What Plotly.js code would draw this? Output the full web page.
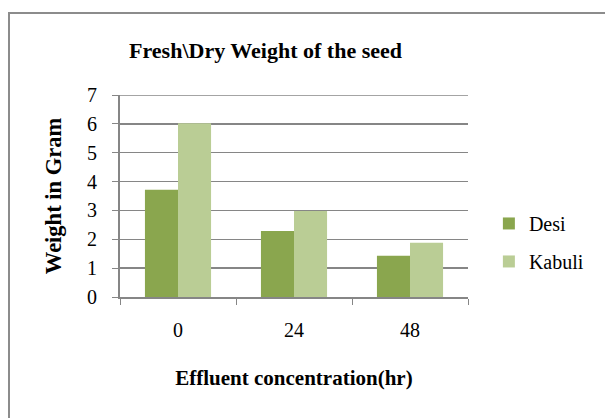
<!DOCTYPE html>
<html>
<head>
<meta charset="utf-8">
<script src="https://cdn.plot.ly/plotly-3.0.1.min.js"></script>
<style>html,body{margin:0;padding:0;background:#fff;}#chart{width:605px;height:418px;}</style>
</head>
<body>
<div id="chart"></div>
<script>
const categories = ['0', '24', '48'];
const desi = [3.72, 2.29, 1.43];
const kabuli = [6.02, 2.98, 1.88];
const yTicks = [0, 1, 2, 3, 4, 5, 6, 7];

const serif = 'Liberation Serif, Times New Roman, serif';
const traces = [
  {type: 'bar', name: 'Desi', x: categories, y: desi, marker: {color: '#8AA64E'}, legendgroup: 'a'},
  {type: 'bar', name: 'Kabuli', x: categories, y: kabuli, marker: {color: '#BACD95'}, legendgroup: 'b'}
];
const L = 120, R = 605 - 468, T = 95, B = 418 - 297;
const layout = {
  width: 605, height: 418,
  margin: {l: L, r: R, t: T, b: B, autoexpand: false},
  paper_bgcolor: '#fff', plot_bgcolor: '#fff',
  font: {family: serif, size: 20, color: '#000'},
  barmode: 'group', bargap: 0.43, bargroupgap: 0,
  title: {text: '<b>Fresh\\Dry Weight of the seed</b>', font: {family: serif, size: 22, color: '#000'},
          x: 265.5 / 605, xanchor: 'center', xref: 'container', y: 1 - 50 / 418, yanchor: 'middle', yref: 'container'},
  xaxis: {
    type: 'category', showline: true, linecolor: '#868686', linewidth: 2,
    ticks: 'outside', tickson: 'boundaries', ticklen: 6, tickcolor: '#868686', tickwidth: 1,
    showgrid: false, zeroline: false, ticklabelstandoff: 14,
    tickfont: {family: serif, size: 20},
    title: {text: '<b>Effluent concentration(hr)</b>', font: {family: serif, size: 21}, standoff: 30}
  },
  yaxis: {
    range: [0, 7], tickvals: yTicks, ticktext: yTicks.map(String),
    showline: true, linecolor: '#868686', linewidth: 2,
    ticks: 'outside', ticklen: 6, tickcolor: '#868686', tickwidth: 1,
    showgrid: true, gridcolor: '#868686', gridwidth: 1.3, zeroline: false,
    ticklabelstandoff: 11,
    tickfont: {family: serif, size: 20},
    title: {text: '<b>Weight in Gram</b>', font: {family: serif, size: 22.5}, standoff: 19}
  },
  legend: {x: 1.06, xanchor: 'left', y: 0.27, yanchor: 'middle', font: {family: serif, size: 20},
           bgcolor: 'rgba(0,0,0,0)', traceorder: 'grouped', tracegroupgap: 9, itemwidth: 30},
  showlegend: true,
  shapes: [
    {type: 'rect', xref: 'paper', yref: 'paper',
     x0: (9 - L) / (605 - L - R), x1: 2,
     y0: -1, y1: (297 - 13) / (418 - T - B),
     line: {color: '#8c8c8c', width: 2}, layer: 'below'},
    {type: 'line', xref: 'paper', yref: 'y', x0: 0, x1: 1, y0: yTicks[yTicks.length - 1], y1: yTicks[yTicks.length - 1],
     line: {color: '#868686', width: 1.3}, layer: 'below'}
  ]
};
Plotly.newPlot('chart', traces, layout, {displayModeBar: false, staticPlot: true});
</script>
</body>
</html>
